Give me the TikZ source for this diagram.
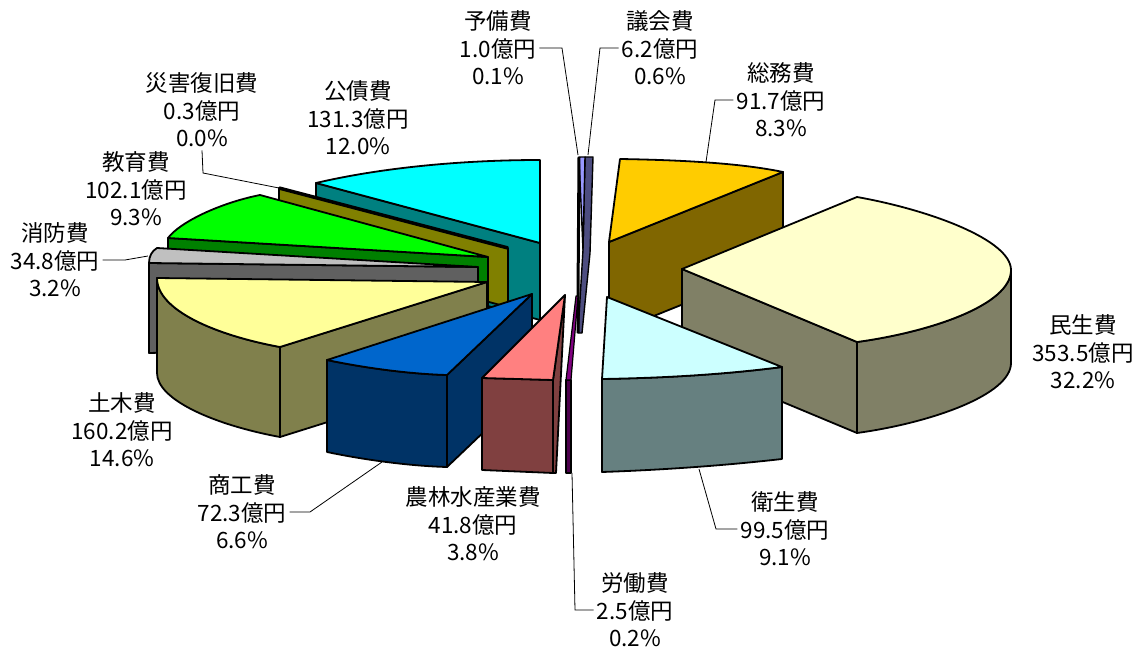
\documentclass[tikz,border=0pt]{standalone}
\usepackage{fontspec}
\setmainfont{Noto Sans CJK JP}
\definecolor{kosaiT}{HTML}{00FFFF}\definecolor{kosaiS}{HTML}{008080}
\definecolor{saigaiS}{HTML}{808000}
\definecolor{kyoikuT}{HTML}{00FF00}\definecolor{kyoikuS}{HTML}{008000}
\definecolor{shoboT}{HTML}{C0C0C0}\definecolor{shoboS}{HTML}{606060}
\definecolor{dobokuT}{HTML}{FFFF99}\definecolor{dobokuS}{HTML}{80804C}
\definecolor{shokoT}{HTML}{0066CC}\definecolor{shokoS}{HTML}{003366}
\definecolor{norinT}{HTML}{FF8080}\definecolor{norinS}{HTML}{804040}
\definecolor{rodoT}{HTML}{800080}\definecolor{rodoS}{HTML}{4D004D}
\definecolor{gikaiT}{HTML}{9999FF}\definecolor{gikaiS}{HTML}{4D4D80}
\definecolor{somuT}{HTML}{FFCC00}\definecolor{somuS}{HTML}{806600}
\definecolor{minseiT}{HTML}{FFFFCC}\definecolor{minseiS}{HTML}{808066}
\definecolor{eiseiT}{HTML}{CCFFFF}\definecolor{eiseiS}{HTML}{668080}
\begin{document}
\begin{tikzpicture}[x=1pt,y=-1pt,
        slice/.style={draw=black,line width=1.8pt,line join=round},
        lbl/.style={align=center,font=\fontsize{22.5}{27.5}\selectfont,inner sep=3pt},
        leader/.style={draw=black,line width=0.8pt}]
        \useasboundingbox (0,0) rectangle (1141,650);

        % Back left slices
        \filldraw[slice,fill=kosaiS] (316,183) -- (540,243) -- (540,320) -- (316,260) -- cycle;
        \filldraw[slice,fill=kosaiT] (540,243) -- (316,183) .. controls (380,168) and (460,160) .. (540,160) -- cycle;

        \filldraw[slice,fill=saigaiS] (279,188) -- (508,248) -- (508,307) -- (279,247) -- cycle;
        \draw[line width=3.5pt] (279,188) -- (508,248);

        \filldraw[slice,fill=kyoikuS] (168,238) -- (488,257) -- (488,310) -- (168,292) -- cycle;
        \filldraw[slice,fill=kyoikuT] (488,257) -- (168,238) .. controls (180,222) and (220,203) .. (260,195) -- cycle;

        \filldraw[slice,fill=shoboS] (149,263) -- (478,267) -- (478,345) -- (149,353) -- cycle;
        \filldraw[slice,fill=shoboT] (478,267) -- (157,248) .. controls (152,251) and (149,256) .. (149,263) -- cycle;

        % Front left slices
        \filldraw[slice,fill=dobokuS] (280,347) -- (487,282) -- (487,372) -- (280,437) -- cycle;
        \filldraw[slice,fill=dobokuS] (157,278) -- (157,373) .. controls (157,400) and (215,425) .. (280,437)
                -- (280,347) .. controls (215,335) and (157,310) .. (157,278) -- cycle;
        \filldraw[slice,fill=dobokuT] (487,282) -- (157,278) .. controls (157,310) and (215,335) .. (280,347) -- cycle;

        \filldraw[slice,fill=shokoS] (447,375) -- (532,294) -- (532,386) -- (447,467) -- cycle;
        \filldraw[slice,fill=shokoS] (327,360) .. controls (365,368) and (410,374) .. (447,375)
                -- (447,467) .. controls (410,466) and (365,460) .. (327,452) -- cycle;
        \filldraw[slice,fill=shokoT] (532,294) -- (327,360) .. controls (365,368) and (410,374) .. (447,375) -- cycle;

        % Right slices
        \filldraw[slice,fill=somuS] (609,242) -- (783,172) -- (783,264) -- (609,334) -- cycle;
        \filldraw[slice,fill=somuT] (609,242) -- (620,159) .. controls (680,160) and (740,163) .. (783,172) -- cycle;

        \filldraw[slice,fill=minseiS] (682,269) -- (857,342) -- (857,433) -- (682,360) -- cycle;
        \filldraw[slice,fill=minseiS] (1011,270) -- (1011,363) .. controls (1011,395) and (930,423) .. (857,433)
                -- (857,342) .. controls (930,332) and (1011,305) .. (1011,270) -- cycle;
        \filldraw[slice,fill=minseiT] (682,269) -- (857,197) .. controls (930,210) and (1011,240) .. (1011,270)
                .. controls (1011,305) and (930,332) .. (857,342) -- cycle;

        \filldraw[slice,fill=eiseiS] (602,379) .. controls (660,378) and (720,375) .. (782,367)
                -- (782,459) .. controls (720,466) and (660,470) .. (602,472) -- cycle;
        \filldraw[slice,fill=eiseiT] (607,297) -- (782,367) .. controls (720,375) and (660,378) .. (602,379) -- cycle;

        % Thin slices in the middle
        \filldraw[slice,fill=gikaiS,line width=1.4pt] (585,157) -- (593,157) -- (590,253) -- (582,333) -- (578,333) -- (583,250) -- cycle;
        \filldraw[slice,fill=gikaiT,line width=1.4pt] (579,157) -- (585,157) -- (583,250) -- cycle;
        \draw[line width=3pt] (579,157) -- (578,297) -- (578,333);

        \filldraw[slice,fill=norinS] (553,380) -- (565,295) -- (556,473) -- (553,473) -- cycle;
        \filldraw[slice,fill=norinS] (482,378) -- (553,380) -- (553,473) -- (482,470) -- cycle;
        \filldraw[slice,fill=norinT] (565,295) -- (482,378) -- (553,380) -- cycle;

        \filldraw[slice,fill=rodoS] (566,380) -- (571,380) -- (571,473) -- (566,473) -- cycle;
        \filldraw[slice,fill=rodoT,line width=1.2pt] (566,380) -- (576,296) -- (578,296) -- (571,380) -- cycle;

        % Labels
        \node[lbl] (lYobi) at (498,48) {予備費\\1.0億円\\0.1\%};
        \node[lbl] (lGikai) at (660,48) {議会費\\6.2億円\\0.6\%};
        \node[lbl] (lSomu) at (781,100) {総務費\\91.7億円\\8.3\%};
        \node[lbl] (lMinsei) at (1083,352) {民生費\\353.5億円\\32.2\%};
        \node[lbl] (lEisei) at (785,529) {衛生費\\99.5億円\\9.1\%};
        \node[lbl] (lRodo) at (635,610) {労働費\\2.5億円\\0.2\%};
        \node[lbl] (lNorin) at (473,524) {農林水産業費\\41.8億円\\3.8\%};
        \node[lbl] (lShoko) at (242,512) {商工費\\72.3億円\\6.6\%};
        \node[lbl] (lDoboku) at (122,430) {土木費\\160.2億円\\14.6\%};
        \node[lbl] (lShobo) at (55,260) {消防費\\34.8億円\\3.2\%};
        \node[lbl] (lKyoiku) at (136,189) {教育費\\102.1億円\\9.3\%};
        \node[lbl] (lSaigai) at (202,110) {災害復旧費\\0.3億円\\0.0\%};
        \node[lbl] (lKosai) at (358,118) {公債費\\131.3億円\\12.0\%};

        % Leader lines
        \coordinate (yobiB) at (562,48);  \coordinate (yobiE) at (578,155);
        \coordinate (gikaiB) at (600,48); \coordinate (gikaiE) at (588,155);
        \coordinate (somuB) at (715,100); \coordinate (somuE) at (706,162);
        \coordinate (eiseiB) at (716,529); \coordinate (eiseiE) at (699,469);
        \coordinate (rodoB) at (575,610); \coordinate (rodoE) at (572,473);
        \coordinate (shokoB) at (310,512); \coordinate (shokoE) at (382,462);
        \coordinate (shoboB) at (125,260); \coordinate (shoboE) at (148,256);
        \coordinate (saigaiB) at (203,173); \coordinate (saigaiE) at (279,188);
        \draw[leader] (lYobi.east) -- (yobiB) -- (yobiE);
        \draw[leader] (lGikai.west) -- (gikaiB) -- (gikaiE);
        \draw[leader] (lSomu.west) -- (somuB) -- (somuE);
        \draw[leader] (lEisei.west) -- (eiseiB) -- (eiseiE);
        \draw[leader] (lRodo.west) -- (rodoB) -- (rodoE);
        \draw[leader] (lShoko.east) -- (shokoB) -- (shokoE);
        \draw[leader] (lShobo.east) -- (shoboB) -- (shoboE);
        \draw[leader] (lSaigai.south) -- (saigaiB) -- (saigaiE);
\end{tikzpicture}
\end{document}
